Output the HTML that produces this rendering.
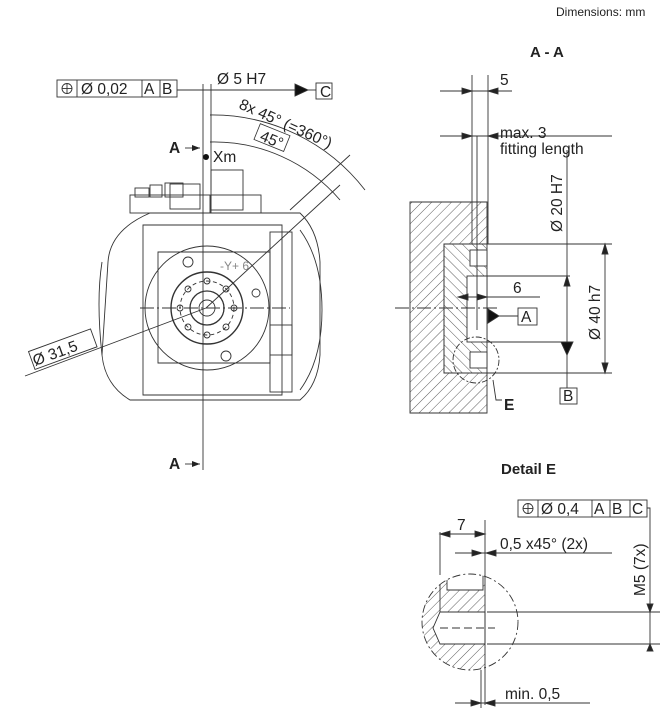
<!DOCTYPE html>
<html><head><meta charset="utf-8"><style>
html,body{margin:0;padding:0;background:#fff;}
svg{display:block;font-family:"Liberation Sans",sans-serif;}
</style></head><body>
<svg width="670" height="711" viewBox="0 0 670 711" xmlns="http://www.w3.org/2000/svg">
<defs>
<pattern id="h" width="7" height="7" patternUnits="userSpaceOnUse" patternTransform="rotate(45)"><line x1="0" y1="0" x2="0" y2="7" stroke="#333" stroke-width="0.8"/></pattern>
<pattern id="h2" width="7" height="7" patternUnits="userSpaceOnUse" patternTransform="rotate(-45)"><line x1="0" y1="0" x2="0" y2="7" stroke="#333" stroke-width="0.8"/></pattern>
<clipPath id="cE"><circle cx="470" cy="622" r="48"/></clipPath>
<marker id="ar" markerWidth="8" markerHeight="6" refX="8" refY="3" orient="auto" markerUnits="userSpaceOnUse"><path d="M0,0 L8,3 L0,6z" fill="#222"/></marker>
</defs>
<g fill="#222">
<text x="556" y="16" font-size="12">Dimensions: mm</text>
<text x="530" y="57" font-size="15" font-weight="bold">A - A</text>
<text x="501" y="474" font-size="15" font-weight="bold">Detail E</text>
</g>

<g stroke="#333" fill="none" stroke-width="0.9">
<rect x="57" y="80" width="120" height="17" fill="#fff"/>
<line x1="77" y1="80" x2="77" y2="97"/><line x1="142" y1="80" x2="142" y2="97"/><line x1="160" y1="80" x2="160" y2="97"/>
<circle cx="67" cy="88.5" r="5"/><line x1="62" y1="88.5" x2="72" y2="88.5"/><line x1="67" y1="83.5" x2="67" y2="93.5"/>
<line x1="177" y1="90" x2="305" y2="90"/>
<path d="M295,84 L308,90 L295,96z" fill="#111"/>
<line x1="308" y1="90" x2="316" y2="90"/>
<rect x="316" y="83" width="16" height="16"/>
<line x1="203" y1="84" x2="203" y2="470"/>
<line x1="211" y1="84" x2="211" y2="190"/>
<path d="M210,115 A193,193 0 0 1 365,190"/>
<path d="M210,142 A166,166 0 0 1 340,200"/>
<line x1="290" y1="210" x2="350" y2="155"/>
<line x1="206" y1="308" x2="340" y2="185"/>
<line x1="25" y1="376" x2="206" y2="308"/>
<g transform="rotate(-20 62 350)"><rect x="30" y="340" width="66" height="19"/></g>
<line x1="185" y1="148" x2="200" y2="148" marker-end="url(#ar)"/>
<line x1="185" y1="464" x2="200" y2="464" marker-end="url(#ar)"/>
<path d="M108,262 Q110,230 150,213 L300,213 Q318,230 320,262 L320,355 Q318,385 300,400 L130,400 Q105,385 102,355 Z"/>
<path d="M102,262 Q96,300 102,355"/>
<path d="M143,225 L282,225 L282,395 L143,395 Z"/>
<path d="M158,252 L270,252 L270,363 L158,363 Z"/>
<rect x="270" y="232" width="22" height="160"/>
<rect x="270" y="325" width="22" height="30"/>
<path d="M300,230 Q322,260 322,310 Q322,360 300,390"/>
<rect x="130" y="195" width="80" height="18"/>
<rect x="135" y="188" width="14" height="9"/>
<rect x="150" y="185" width="12" height="12"/>
<rect x="165" y="183" width="18" height="14"/>
<rect x="170" y="184" width="30" height="25"/>
<rect x="211" y="170" width="32" height="40"/>
<rect x="211" y="195" width="50" height="18"/>
<circle cx="207" cy="308" r="62"/>
<circle cx="207" cy="308" r="36" stroke-width="1.4"/>
<circle cx="207" cy="308" r="27" stroke-dasharray="4,3"/>
<circle cx="207" cy="308" r="17" stroke-width="1.3"/>
<circle cx="207" cy="308" r="8"/>
<circle cx="207" cy="281" r="3"/><circle cx="207" cy="335" r="3"/>
<circle cx="180" cy="308" r="3"/><circle cx="234" cy="308" r="3"/>
<circle cx="188" cy="289" r="3"/><circle cx="226" cy="289" r="3"/>
<circle cx="188" cy="327" r="3"/><circle cx="226" cy="327" r="3"/>
<circle cx="188" cy="262" r="5"/><circle cx="256" cy="293" r="4"/><circle cx="226" cy="356" r="5"/>
<line x1="140" y1="308" x2="290" y2="308" stroke-dasharray="14,3,2,3"/>
</g>
<g fill="#222" font-size="15.5">
<text x="81" y="94">Ø 0,02</text><text x="144" y="94">A</text><text x="162" y="94">B</text>
<text x="320" y="97">C</text>
<text x="217" y="84">Ø 5 H7</text>
<text transform="translate(238,108) rotate(24)">8x 45° (=360°)</text>
<text transform="translate(259,140) rotate(22)">45°</text>
<text x="169" y="153" font-weight="bold">A</text>
<text x="169" y="469" font-weight="bold">A</text>
<text x="213" y="162">Xm</text>
<text transform="translate(35,366) rotate(-20)">Ø 31,5</text>
<text x="220" y="270" font-size="12" fill="#888">-Y+ 6</text>
</g>
<g transform="rotate(22 259 135)"><rect x="256" y="124" width="32" height="17" fill="none" stroke="#333" stroke-width="0.8"/></g>
<circle cx="206" cy="157" r="3" fill="#111"/>

<g stroke="#333" fill="none" stroke-width="0.9">
<path d="M410,202 L487,202 L487,244 L444,244 L444,373 L487,373 L487,413 L410,413 Z" fill="url(#h)"/>
<path d="M444,244 L487,244 L487,373 L444,373 Z" fill="url(#h2)"/>
<rect x="467" y="276" width="20" height="66" fill="#fff"/>
<rect x="470" y="250" width="17" height="16" fill="#fff"/>
<rect x="470" y="352" width="17" height="16" fill="#fff"/>
<line x1="472" y1="75" x2="472" y2="244"/>
<line x1="488" y1="75" x2="488" y2="244"/>
<line x1="477" y1="136" x2="477" y2="330"/>
<line x1="440" y1="91" x2="512" y2="91"/>
<line x1="440" y1="136" x2="612" y2="136"/>
<path d="M462,88 L472,91 L462,94z M498,88 L488,91 L498,94z" fill="#222"/>
<path d="M462,133 L472,136 L462,139z M498,133 L488,136 L498,139z" fill="#222"/>
<line x1="487" y1="244" x2="612" y2="244"/>
<line x1="487" y1="373" x2="612" y2="373"/>
<line x1="605" y1="244" x2="605" y2="373"/>
<path d="M602,254 L605,244 L608,254z M602,363 L605,373 L608,363z" fill="#222"/>
<line x1="480" y1="276" x2="570" y2="276"/>
<line x1="487" y1="342" x2="570" y2="342"/>
<line x1="567" y1="150" x2="567" y2="388"/>
<path d="M561,342 L567,355 L573,342z" fill="#111"/>
<path d="M564,286 L567,276 L570,286z" fill="#222"/>
<line x1="458" y1="297" x2="540" y2="297"/>
<path d="M468,294 L458,297 L468,300z M477,294 L487,297 L477,300z" fill="#222"/>
<line x1="395" y1="308" x2="500" y2="308" stroke-dasharray="14,3,2,3"/>
<path d="M488,309 L499,316 L488,323z" fill="#111"/>
<line x1="499" y1="316" x2="518" y2="316"/>
<rect x="518" y="308" width="19" height="17"/>
<rect x="560" y="388" width="17" height="16"/>
<circle cx="476" cy="360" r="23" stroke-dasharray="6,2,2,2"/>
<path d="M493,380 L496,400 L502,400"/>
</g>
<g fill="#222" font-size="15.5">
<text x="500" y="85">5</text>
<text x="500" y="138">max. 3</text>
<text x="500" y="154">fitting length</text>
<text transform="translate(562,232) rotate(-90)">Ø 20 H7</text>
<text transform="translate(600,340) rotate(-90)">Ø 40 h7</text>
<text x="513" y="293">6</text>
<text x="521" y="322">A</text>
<text x="563" y="401">B</text>
<text x="504" y="410" font-weight="bold">E</text>
</g>

<g stroke="#333" fill="none" stroke-width="0.9">
<rect x="518" y="500" width="129" height="17"/>
<line x1="538" y1="500" x2="538" y2="517"/><line x1="592" y1="500" x2="592" y2="517"/><line x1="610" y1="500" x2="610" y2="517"/><line x1="630" y1="500" x2="630" y2="517"/>
<circle cx="528" cy="508.5" r="5"/><line x1="523" y1="508.5" x2="533" y2="508.5"/><line x1="528" y1="503.5" x2="528" y2="513.5"/>
<path d="M647,508 L650,508 L650,645"/>
<path d="M647,604 L650,612 L653,604z M647,651 L650,644 L653,651z" fill="#222"/>
<line x1="487" y1="612" x2="660" y2="612"/>
<line x1="487" y1="644" x2="660" y2="644"/>
<g clip-path="url(#cE)">
<path d="M400,560 L485,560 L485,700 L400,700 Z" fill="url(#h)" stroke="none"/>
<path d="M447,560 L447,590 L483,590 L483,560" fill="#fff" stroke="#333"/>
<path d="M485,612 L440,612 L433,628 L440,644 L485,644 Z" fill="#fff" stroke="#333"/>
<line x1="440" y1="560" x2="440" y2="612"/>
</g>
<line x1="440" y1="532" x2="440" y2="575"/>
<line x1="485" y1="520" x2="485" y2="705"/>
<circle cx="470" cy="622" r="48" stroke-dasharray="8,3,2,3"/>
<line x1="440" y1="628" x2="495" y2="628" stroke-dasharray="8,4"/>
<line x1="440" y1="534" x2="485" y2="534"/>
<path d="M450,531 L440,534 L450,537z M475,531 L485,534 L475,537z" fill="#222"/>
<line x1="455" y1="553" x2="612" y2="553"/>
<path d="M472,550 L482,553 L472,556z M496,550 L486,553 L496,556z" fill="#222"/>
<line x1="455" y1="703" x2="590" y2="703"/>
<path d="M471,700 L481,703 L471,706z M495,700 L485,703 L495,706z" fill="#222"/>
<line x1="481" y1="670" x2="481" y2="708"/>
</g>
<g fill="#222" font-size="15.5">
<text x="541" y="514">Ø 0,4</text><text x="594" y="514">A</text><text x="612" y="514">B</text><text x="632" y="514">C</text>
<text x="457" y="530">7</text>
<text x="500" y="549">0,5 x45° (2x)</text>
<text transform="translate(645,596) rotate(-90)">M5 (7x)</text>
<text x="505" y="699">min. 0,5</text>
</g>
</svg>
</body></html>
